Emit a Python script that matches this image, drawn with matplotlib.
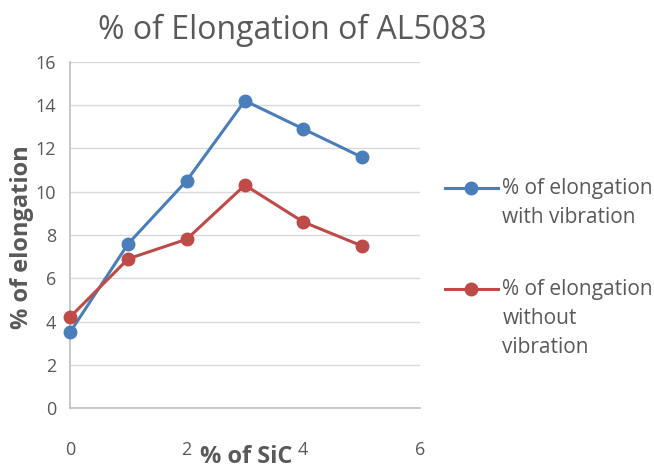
import matplotlib.pyplot as plt
from matplotlib.lines import Line2D

sic = [0, 1, 2, 3, 4, 5]
with_vib = [3.5, 7.6, 10.5, 14.2, 12.9, 11.6]
without_vib = [4.2, 6.9, 7.8, 10.3, 8.6, 7.5]
labels = ["% of elongation\nwith vibration", "% of elongation\nwithout\nvibration"]
colors = ['#4a7ebb', '#be4b48']

plt.rcParams['font.family'] = ['Open Sans', 'DejaVu Sans']
grey = '#595959'

fig = plt.figure(figsize=(6.54, 4.68), dpi=100)
ax = fig.add_axes([0.107, 0.128, 0.535, 0.74])

ax.plot(sic, with_vib, color=colors[0], lw=2.2, marker='o', ms=9, zorder=3, clip_on=False)
ax.plot(sic, without_vib, color=colors[1], lw=2.2, marker='o', ms=9, zorder=3, clip_on=False)

ax.set_xlim(0, 6)
ax.set_ylim(0, 16)
ax.set_xticks([0, 2, 4, 6])
ax.set_yticks(range(0, 17, 2))
ax.grid(axis='y', color='#d9d9d9', lw=1)
ax.set_axisbelow(True)
for s in ['top', 'right']:
    ax.spines[s].set_visible(False)
for s in ['left', 'bottom']:
    ax.spines[s].set_color('#bfbfbf')
    ax.spines[s].set_linewidth(1.2)
ax.tick_params(length=0, labelsize=13, colors=grey, pad=10)
ax.tick_params(axis='x', pad=24)

fig.text(0.447, 0.936, "% of Elongation of AL5083", fontsize=23, color=grey,
         ha='center', va='center')
fig.text(0.033, 0.493, "% of elongation", rotation=90, fontsize=17, fontweight='bold',
         color=grey, ha='center', va='center')
fig.text(0.377, 0.024, "% of SiC", fontsize=17, fontweight='bold',
         color=grey, ha='center', va='center')

# legend drawn by hand so the marker sits on the first text line
for lab, col, yc in zip(labels, colors, [0.598, 0.382]):
    fig.add_artist(Line2D([0.680, 0.761], [yc, yc], color=col, lw=2.2))
    fig.add_artist(Line2D([0.7205], [yc], color=col, marker='o', ms=9))
    fig.text(0.768, yc + 0.022, lab, fontsize=15, color=grey, ha='left', va='top',
             linespacing=1.5)

fig.savefig('out.png', dpi=100)
